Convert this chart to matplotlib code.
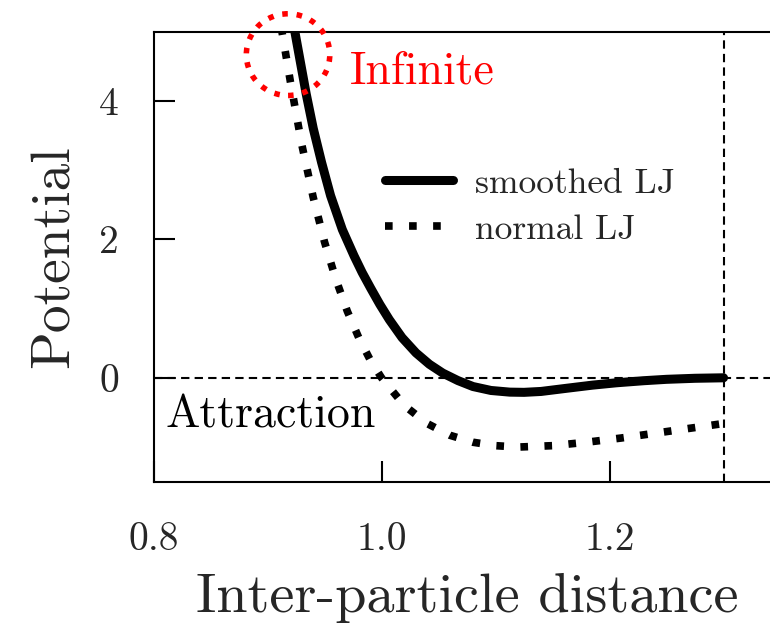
import numpy as np
import matplotlib.pyplot as plt
from matplotlib.patches import Ellipse

plt.rcParams['font.family'] = 'cmr10'
plt.rcParams['axes.formatter.use_mathtext'] = True
plt.rcParams['mathtext.fontset'] = 'cm'

# smoothed LJ potential (goes to zero with zero slope at the cutoff)
r_smooth = [0.9200, 0.9236, 0.9289, 0.9339, 0.9401, 0.9474, 0.9553, 0.9656,
            0.9759, 0.9830, 0.9906, 0.9985, 1.0068, 1.0180, 1.0302, 1.0420,
            1.0537, 1.0670, 1.0802, 1.0960, 1.1125, 1.1250, 1.1400, 1.1620,
            1.1850, 1.2060, 1.2300, 1.2500, 1.2750, 1.3000]
v_smooth = [5.45, 5.03, 4.55, 4.10, 3.60, 3.11, 2.63, 2.14,
            1.76, 1.52, 1.29, 1.06, 0.84, 0.58, 0.36, 0.195,
            0.068, -0.040, -0.126, -0.183, -0.207, -0.210, -0.197, -0.152,
            -0.106, -0.072, -0.042, -0.022, -0.007, 0.0]

# plain LJ potential, truncated at the cutoff
r_normal = [0.912, 0.920, 0.930, 0.940, 0.950, 0.960, 0.970, 0.980, 0.990,
            1.000, 1.020, 1.040, 1.060, 1.080, 1.100, 1.120, 1.150, 1.180,
            1.210, 1.240, 1.270, 1.300]
v_normal = [5.06, 4.28, 3.37, 2.61, 1.96, 1.42, 0.96, 0.58, 0.26,
            0.00, -0.40, -0.66, -0.83, -0.93, -0.98, -1.00, -0.98, -0.93,
            -0.87, -0.80, -0.73, -0.66]

r_cut = 1.3
xticks = [0.8, 1.0, 1.2]
yticks = [0, 2, 4]

fig = plt.figure(figsize=(7.7, 6.25), dpi=100)
ax = fig.add_axes([0.1994, 0.2293, 0.8143, 0.7203])

ax.axhline(0, color='k', lw=1.5, linestyle=(0, (4, 2.5)), zorder=1)
ax.axvline(r_cut, color='k', lw=1.5, linestyle=(0, (4, 2.5)), zorder=1)

ax.plot(r_smooth, v_smooth, color='k', lw=6.5, solid_capstyle='round',
        solid_joinstyle='round', label='smoothed LJ', zorder=3)
ax.plot(r_normal, v_normal, color='k', lw=5.5, linestyle=(0, (1, 2.15)),
        label='normal LJ', zorder=3)

circ = Ellipse((0.918, 4.666), 0.0732, 1.18, fill=False, edgecolor='red',
               lw=4, linestyle=(0, (1, 1.6)), clip_on=False, zorder=4)
ax.add_patch(circ)
ax.text(0.9724, 4.25, 'Infinite', color='red', fontsize=33, va='baseline')
ax.text(0.8101, -0.715, 'Attraction', color='k', fontsize=33, va='baseline')

ax.set_xlim(0.8, 1.35)
ax.set_ylim(-1.5, 5)
ax.set_xticks(xticks)
ax.set_yticks(yticks)
ax.set_xticklabels(['%.1f' % t for t in xticks])
ax.set_yticklabels([str(t) for t in yticks])
ax.tick_params(direction='in', length=15, width=1.5, labelsize=28.5,
               labelcolor='#262626', top=False, right=False)
ax.tick_params(axis='x', pad=29)
ax.tick_params(axis='y', pad=25)
for s in ax.spines.values():
    s.set_linewidth(1.5)

ax.set_xlabel('Inter-particle distance', fontsize=40.5, color='#262626',
              labelpad=11)
ax.set_ylabel('Potential', fontsize=40, color='#262626', labelpad=14)

leg = ax.legend(loc='upper left', bbox_to_anchor=(0.369, 0.697),
                frameon=False, fontsize=25.5, handlelength=1.92,
                handletextpad=0.62, borderpad=0, labelspacing=0.4,
                borderaxespad=0)
for t in leg.get_texts():
    t.set_color('#262626')

fig.savefig('out.png', dpi=100)
